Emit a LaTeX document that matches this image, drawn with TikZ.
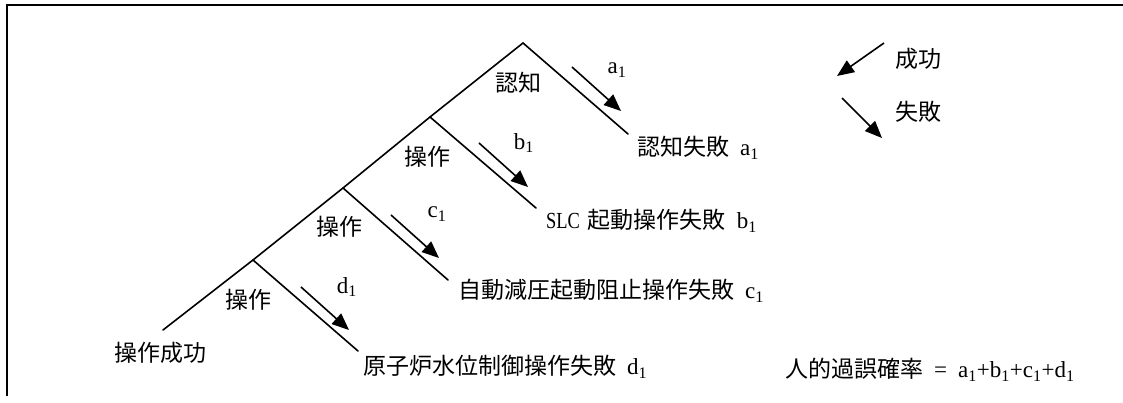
\documentclass[tikz,border=0pt]{standalone}
\usepackage{graphicx}
\usepackage{fontspec}
\setmainfont{Liberation Serif}
\newfontfamily\jp{Noto Sans CJK JP}
\usetikzlibrary{arrows.meta}
\newcommand{\sbs}[1]{\textsubscript{#1}}
\newcommand{\gap}{\hspace{11pt}}
\begin{document}
\begin{tikzpicture}[x=1pt,y=-1pt,
  tree/.style={line width=1.6pt,line cap=round},
  flow/.style={line width=1.6pt,-{Triangle[length=17pt,width=14pt]}},
  frame/.style={line width=2.6pt},
  lbl/.style={inner sep=0pt,font=\fontsize{23}{26}\selectfont},
  lblw/.style={lbl,anchor=west}]
\useasboundingbox (0,0) rectangle (1123,403);
% frame
\coordinate (f0) at (7,396);
\coordinate (f1) at (7,5);
\coordinate (f2) at (1123,5);
\draw[frame] (f0) -- (f1) -- (f2);
% tree points
\coordinate (apex) at (523,43);
\coordinate (p1) at (430,117);
\coordinate (p2) at (343,188);
\coordinate (p3) at (253,260);
\coordinate (lend) at (163,330);
\coordinate (e0) at (628,134);
\coordinate (e1) at (536,208);
\coordinate (e2) at (448,280);
\coordinate (e3) at (358,351);
\draw[tree] (lend) -- (p3) -- (p2) -- (p1) -- (apex) -- (e0);
\draw[tree] (p1) -- (e1);
\draw[tree] (p2) -- (e2);
\draw[tree] (p3) -- (e3);
% failure arrows
\coordinate (as) at (572,67);  \coordinate (at) at (621,111);
\coordinate (bs) at (479,143); \coordinate (bt) at (528,187);
\coordinate (cs) at (391,215); \coordinate (ct) at (439,258);
\coordinate (ds) at (301,287); \coordinate (dt) at (349,330);
\draw[flow] (as) -- (at);
\draw[flow] (bs) -- (bt);
\draw[flow] (cs) -- (ct);
\draw[flow] (ds) -- (dt);
% arrow labels
\node[lbl] (la) at (617,70) {a\sbs{1}};
\node[lbl] (lb) at (524,143) {b\sbs{1}};
\node[lbl] (lc) at (437,214) {c\sbs{1}};
\node[lbl] (ld) at (347,287) {d\sbs{1}};
% branch labels
\node[lbl] (n0) at (518,83) {\jp 認知};
\node[lbl] (n1) at (427,157) {\jp 操作};
\node[lbl] (n2) at (339,227) {\jp 操作};
\node[lbl] (n3) at (248,300) {\jp 操作};
\node[lbl] (ok) at (160,353) {\jp 操作成功};
% outcomes
\node[lblw] (o0) at (637,148) {{\jp 認知失敗}\gap a\sbs{1}};
\node[lblw] (o1) at (546,221) {\scalebox{0.8}[1]{SLC}\hspace{8pt}{\jp 起動操作失敗}\gap b\sbs{1}};
\node[lblw] (o2) at (458,291) {{\jp 自動減圧起動阻止操作失敗}\gap c\sbs{1}};
\node[lblw] (o3) at (363,367) {{\jp 原子炉水位制御操作失敗}\gap d\sbs{1}};
\node[lblw] (sum) at (785,370) {{\jp 人的過誤確率}\gap=\gap a\sbs{1}+b\sbs{1}+c\sbs{1}+d\sbs{1}};
% legend
\coordinate (gs) at (884,43); \coordinate (gt) at (837,76);
\coordinate (fs) at (842,98); \coordinate (ft) at (882,138);
\draw[flow] (gs) -- (gt);
\draw[flow] (fs) -- (ft);
\node[lbl] (tg) at (918,59) {\jp 成功};
\node[lbl] (tf) at (918,112) {\jp 失敗};
\end{tikzpicture}
\end{document}
